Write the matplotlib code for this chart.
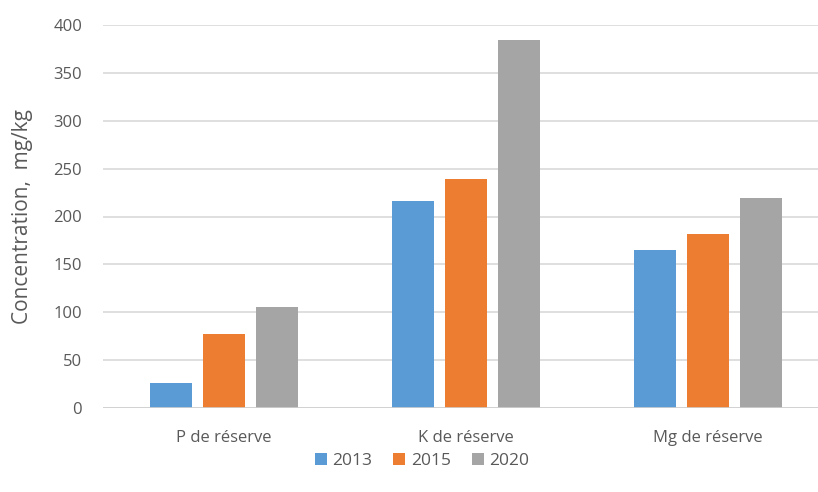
import matplotlib
matplotlib.use("Agg")
import matplotlib.pyplot as plt
import numpy as np

categories = ["P de réserve", "K de réserve", "Mg de réserve"]
years = ["2013", "2015", "2020"]
v2013 = [26, 216, 165]
v2015 = [77, 239, 182]
v2020 = [105, 384, 219]
yticks = [0, 50, 100, 150, 200, 250, 300, 350, 400]
ylabel = "Concentration,  mg/kg"

colors = ["#5B9BD5", "#ED7D31", "#A5A5A5"]
plt.rcParams['font.family'] = ['Open Sans', 'DejaVu Sans']

fig = plt.figure(figsize=(8.18, 4.92), dpi=100)
W, H = 818, 492
left, right, top, bottom = 103, 829, 25, 408
ax = fig.add_axes([left / W, (H - bottom) / H, (right - left) / W, (bottom - top) / H])

x = np.arange(len(categories))
offs = [-0.219, 0.0, 0.219]
width = 0.174
for i, (vals, lab) in enumerate(zip([v2013, v2015, v2020], years)):
    ax.bar(x + offs[i], vals, width, color=colors[i], label=lab, zorder=3)

ax.set_xlim(-0.5, 2.5)
ax.set_ylim(0, 400)
ax.set_yticks(yticks)
ax.set_xticks(x)
ax.set_xticklabels(categories)
ax.grid(axis='y', color='#D9D9D9', linewidth=1.2, zorder=0)
ax.axhline(0, color='#D0D0D0', linewidth=1.2, zorder=4)
for s in ax.spines.values():
    s.set_visible(False)
ax.tick_params(axis='both', length=0, colors='#595959', labelsize=12)
ax.tick_params(axis='y', pad=15)
ax.tick_params(axis='x', pad=16)
ax.set_ylabel(ylabel, fontsize=15, color='#595959')
ax.yaxis.set_label_coords((33 - left) / (right - left), 0.5)

fig.legend(loc='center', bbox_to_anchor=(422 / W, (H - 461) / H), ncol=3, frameon=False,
           fontsize=12.5, handlelength=0.7, handleheight=0.7, handletextpad=0.3,
           columnspacing=1.2, labelcolor='#595959')

fig.savefig("out.png", dpi=100)
